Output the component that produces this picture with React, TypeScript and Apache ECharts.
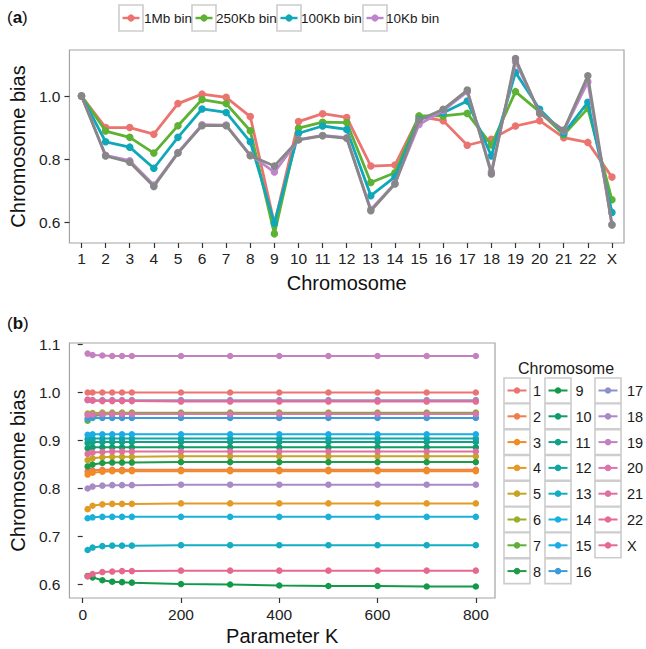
import React, { useEffect, useRef } from "react";
import * as echarts from "echarts";

const FONT = "'Liberation Sans', Arial, Helvetica, sans-serif";

// ---------- Panel (a) data ----------
const chromosomes = ["1","2","3","4","5","6","7","8","9","10","11","12","13","14","15","16","17","18","19","20","21","22","X"];
const bin1Mb = [1.0, 0.900, 0.900, 0.879, 0.976, 1.006, 0.996, 0.935, 0.595, 0.919, 0.944, 0.932, 0.778, 0.781, 0.935, 0.922, 0.844, 0.863, 0.905, 0.922, 0.868, 0.853, 0.743];
const bin250Kb = [1.0, 0.889, 0.869, 0.819, 0.906, 0.989, 0.976, 0.890, 0.563, 0.898, 0.917, 0.916, 0.726, 0.757, 0.937, 0.937, 0.945, 0.845, 1.014, 0.950, 0.877, 0.961, 0.671];
const bin100Kb = [1.0, 0.855, 0.838, 0.771, 0.869, 0.959, 0.948, 0.855, 0.597, 0.882, 0.905, 0.894, 0.684, 0.744, 0.926, 0.947, 0.984, 0.810, 1.075, 0.958, 0.882, 0.980, 0.631];
const bin10Kb = [1.0, 0.812, 0.795, 0.718, 0.821, 0.909, 0.908, 0.813, 0.759, 0.862, 0.875, 0.868, 0.640, 0.723, 0.910, 0.954, 1.014, 0.760, 1.109, 0.947, 0.890, 1.045, 0.593];
const overlayGrey = [1.0, 0.810, 0.790, 0.713, 0.819, 0.906, 0.906, 0.811, 0.778, 0.861, 0.874, 0.866, 0.636, 0.721, 0.924, 0.958, 1.019, 0.753, 1.119, 0.945, 0.892, 1.064, 0.591];
const binNames = ["1Mb bin", "250Kb bin", "100Kb bin", "10Kb bin"];
const binColors = ["#EC7470", "#5DB133", "#10A8B8", "#BE85CB"];
const greyColor = "#878787";
const yTicksA = [0.6, 0.8, 1.0];

// ---------- Panel (b) data ----------
const paramK = [10, 20, 40, 60, 80, 100, 200, 300, 400, 500, 600, 700, 800];
const c1 = [1.000, 1.000, 1.000, 1.000, 1.000, 1.000, 1.000, 1.000, 1.000, 1.000, 1.000, 1.000, 1.000];
const c2 = [0.836, 0.838, 0.839, 0.839, 0.839, 0.839, 0.839, 0.839, 0.839, 0.839, 0.839, 0.839, 0.839];
const c3 = [0.829, 0.833, 0.835, 0.836, 0.836, 0.836, 0.836, 0.836, 0.836, 0.836, 0.836, 0.836, 0.836];
const c4 = [0.757, 0.764, 0.767, 0.768, 0.768, 0.768, 0.769, 0.769, 0.769, 0.769, 0.769, 0.769, 0.769];
const c5 = [0.859, 0.863, 0.865, 0.866, 0.866, 0.866, 0.867, 0.867, 0.867, 0.867, 0.867, 0.867, 0.867];
const c6 = [0.956, 0.957, 0.958, 0.958, 0.958, 0.958, 0.958, 0.958, 0.958, 0.958, 0.958, 0.958, 0.958];
const c7 = [0.941, 0.950, 0.954, 0.955, 0.955, 0.956, 0.956, 0.956, 0.956, 0.956, 0.956, 0.956, 0.956];
const c8 = [0.846, 0.850, 0.853, 0.854, 0.854, 0.854, 0.855, 0.855, 0.855, 0.855, 0.855, 0.855, 0.855];
const c9 = [0.618, 0.615, 0.609, 0.606, 0.605, 0.604, 0.601, 0.600, 0.598, 0.597, 0.597, 0.596, 0.596];
const c10 = [0.884, 0.886, 0.886, 0.886, 0.886, 0.886, 0.886, 0.886, 0.886, 0.886, 0.886, 0.886, 0.886];
const c11 = [0.895, 0.897, 0.897, 0.897, 0.897, 0.897, 0.897, 0.897, 0.897, 0.897, 0.897, 0.897, 0.897];
const c12 = [0.903, 0.904, 0.904, 0.904, 0.904, 0.904, 0.904, 0.904, 0.904, 0.904, 0.904, 0.904, 0.904];
const c13 = [0.672, 0.677, 0.680, 0.681, 0.681, 0.681, 0.682, 0.682, 0.682, 0.682, 0.682, 0.682, 0.682];
const c14 = [0.738, 0.740, 0.741, 0.741, 0.741, 0.741, 0.741, 0.741, 0.741, 0.741, 0.741, 0.741, 0.741];
const c15 = [0.912, 0.913, 0.913, 0.913, 0.913, 0.913, 0.913, 0.913, 0.913, 0.913, 0.913, 0.913, 0.913];
const c16 = [0.946, 0.947, 0.947, 0.947, 0.947, 0.947, 0.947, 0.947, 0.947, 0.947, 0.947, 0.947, 0.947];
const c17 = [0.984, 0.984, 0.984, 0.984, 0.984, 0.984, 0.984, 0.984, 0.984, 0.984, 0.984, 0.984, 0.984];
const c18 = [0.800, 0.804, 0.806, 0.807, 0.807, 0.807, 0.808, 0.808, 0.808, 0.808, 0.808, 0.808, 0.808];
const c19 = [1.081, 1.078, 1.077, 1.076, 1.076, 1.076, 1.076, 1.076, 1.076, 1.076, 1.076, 1.076, 1.076];
const c20 = [0.953, 0.954, 0.955, 0.955, 0.955, 0.955, 0.955, 0.955, 0.955, 0.955, 0.955, 0.955, 0.955];
const c21 = [0.872, 0.875, 0.876, 0.877, 0.877, 0.877, 0.877, 0.877, 0.877, 0.877, 0.877, 0.877, 0.877];
const c22 = [0.985, 0.983, 0.982, 0.982, 0.982, 0.982, 0.981, 0.981, 0.981, 0.981, 0.981, 0.981, 0.981];
const cX = [0.617, 0.622, 0.626, 0.627, 0.628, 0.628, 0.629, 0.629, 0.629, 0.629, 0.629, 0.629, 0.629];
const chromValues = [c1, c2, c3, c4, c5, c6, c7, c8, c9, c10, c11, c12, c13, c14, c15, c16, c17, c18, c19, c20, c21, c22, cX];
const chromColors = [
  "#EC7470", "#EF7E4C", "#F08B25", "#E39B26", "#C6A524", "#9CAD2C", "#5FAF3A", "#1E9A48",
  "#13994A", "#0F9D68", "#0FA189", "#12A6A2", "#15ADC2", "#1AB0DC", "#1BACE6", "#3D9BDB",
  "#8E92CA", "#A88AC6", "#C480BF", "#DB75AF", "#E16F9F", "#E56B96", "#E7688E",
];
const yTicksB = [0.6, 0.7, 0.8, 0.9, 1.0, 1.1];
const xTicksB = [0, 200, 400, 600, 800];

export default function App() {
  const ref = useRef<HTMLDivElement>(null);

  useEffect(() => {
    if (!ref.current) return;
    const chart = echarts.init(ref.current, undefined, { renderer: "svg" });

    const seriesA: any[] = binNames.map((n, i) => ({
      name: n,
      type: "line",
      xAxisIndex: 0,
      yAxisIndex: 0,
      data: [bin1Mb, bin250Kb, bin100Kb, bin10Kb][i],
      symbol: "circle",
      symbolSize: 7.5,
      lineStyle: { width: 2.8, color: binColors[i] },
      itemStyle: { color: binColors[i] },
      z: 2 + i,
    }));
    seriesA.push({
      name: "overlay",
      type: "line",
      xAxisIndex: 0,
      yAxisIndex: 0,
      data: overlayGrey,
      symbol: "circle",
      symbolSize: 7.5,
      lineStyle: { width: 2.8, color: greyColor },
      itemStyle: { color: greyColor },
      z: 7,
    });

    const seriesB = chromosomes.map((c, i) => ({
      name: "chr" + c,
      type: "line",
      xAxisIndex: 1,
      yAxisIndex: 1,
      data: paramK.map((k, j) => [k, chromValues[i][j]]),
      symbol: "circle",
      symbolSize: 6.5,
      lineStyle: { width: 2, color: chromColors[i] },
      itemStyle: { color: chromColors[i] },
    }));

    const graphics: any[] = [];
    const txt = (text: string, x: number, y: number, size: number, extra: any = {}) => ({
      type: "text",
      x,
      y,
      style: {
        text,
        fontSize: size,
        fontFamily: FONT,
        fill: "#1a1a1a",
        align: "left",
        verticalAlign: "middle",
        textAlign: "left",
        textVerticalAlign: "middle",
        ...extra,
      },
      z: 10,
    });
    const panelLabel = (letter: string, y: number) => ({
      type: "text",
      x: 7,
      y,
      style: {
        text: "{p|(}{b|" + letter + "}{p|)}",
        verticalAlign: "middle",
        textVerticalAlign: "middle",
        rich: {
          p: { fontSize: 17, fontFamily: FONT, fill: "#111", color: "#111" },
          b: { fontSize: 17, fontFamily: FONT, fontWeight: "bold", fill: "#111", color: "#111" },
        },
      },
    });
    graphics.push(panelLabel("a", 17.5));
    graphics.push(panelLabel("b", 323));

    const key = (bx: number, by: number, w: number, h: number, color: string, lw: number, r: number) => {
      const cy = by + h / 2;
      graphics.push({
        type: "rect",
        shape: { x: bx, y: by, width: w, height: h },
        style: { fill: "#fff", stroke: "#CDCDCD", lineWidth: 1.6 },
        z: 9,
      });
      graphics.push({
        type: "line",
        shape: { x1: bx + 3.5, y1: cy, x2: bx + w - 3.5, y2: cy },
        style: { stroke: color, lineWidth: lw },
        z: 10,
      });
      graphics.push({
        type: "circle",
        shape: { cx: bx + w / 2, cy, r },
        style: { fill: color },
        z: 11,
      });
    };

    // legend (a)
    const legAx = [119, 192, 277, 363];
    const legAtx = [144, 216, 301, 386];
    binNames.forEach((n, i) => {
      key(legAx[i], 5, 24, 26, binColors[i], 2.4, 3.6);
      graphics.push(txt(n, legAtx[i], 18.5, 13.5));
    });

    // legend (b)
    graphics.push(txt("Chromosome", 518, 368, 16));
    const colBoxX = [504, 545, 595];
    const colLabX = [533, 575.5, 627];
    chromosomes.forEach((c, i) => {
      const col = Math.floor(i / 8);
      const row = i % 8;
      const by = 378 + row * 25.8;
      key(colBoxX[col], by, 26, 25, chromColors[i], 2, 3.3);
      graphics.push(txt(c, colLabX[col], by + 13, 14.5));
    });

    const tickStyle = { color: "#333", width: 1.2 };
    const labelStyle = { fontFamily: FONT, color: "#222", fontSize: 15.5 };
    const nameStyle = { fontFamily: FONT, color: "#111", fontSize: 20 };

    chart.setOption({
      animation: false,
      backgroundColor: "#fff",
      grid: [
        { left: 60, top: 50, width: 564, height: 193, show: true, borderColor: "#A3A3A3", borderWidth: 1.2, backgroundColor: "transparent", containLabel: false },
        { left: 58, top: 343, width: 437, height: 255, show: true, borderColor: "#A3A3A3", borderWidth: 1.2, backgroundColor: "transparent", containLabel: false },
      ],
      xAxis: [
        {
          type: "category",
          gridIndex: 0,
          data: chromosomes,
          boundaryGap: true,
          axisLine: { show: false },
          axisTick: { show: true, alignWithLabel: true, length: 5, lineStyle: tickStyle },
          axisLabel: { ...labelStyle, margin: 7, interval: 0 },
          splitLine: { show: false },
          name: "Chromosome",
          nameLocation: "middle",
          nameGap: 30,
          nameTextStyle: nameStyle,
        },
        {
          type: "value",
          gridIndex: 1,
          min: -27,
          max: 839,
          axisLine: { show: false },
          axisTick: { show: true, length: 5, lineStyle: tickStyle, customValues: xTicksB },
          axisLabel: { ...labelStyle, margin: 8, customValues: xTicksB },
          splitLine: { show: false },
          name: "Parameter K",
          nameLocation: "middle",
          nameGap: 28,
          nameTextStyle: nameStyle,
        },
      ],
      yAxis: [
        {
          type: "value",
          gridIndex: 0,
          min: 0.534,
          max: 1.146,
          axisLine: { show: false },
          axisTick: { show: true, length: 5, lineStyle: tickStyle, customValues: yTicksA },
          axisLabel: { ...labelStyle, margin: 9, customValues: yTicksA, formatter: (v: number) => v.toFixed(1) },
          splitLine: { show: false },
          name: "Chromosome bias",
          nameLocation: "middle",
          nameGap: 35,
          nameRotate: 90,
          nameTextStyle: nameStyle,
        },
        {
          type: "value",
          gridIndex: 1,
          min: 0.572,
          max: 1.103,
          axisLine: { show: false },
          axisTick: { show: true, length: 5, lineStyle: tickStyle, customValues: yTicksB },
          axisLabel: { ...labelStyle, margin: 9, customValues: yTicksB, formatter: (v: number) => v.toFixed(1) },
          splitLine: { show: false },
          name: "Chromosome bias",
          nameLocation: "middle",
          nameGap: 36,
          nameRotate: 90,
          nameTextStyle: nameStyle,
        },
      ],
      series: [...seriesA, ...seriesB],
      graphic: graphics,
    });

    return () => chart.dispose();
  }, []);

  return (
    <div
      ref={ref}
      style={{ position: "absolute", left: 0, top: 0, width: 646, height: 649, background: "#fff" }}
    />
  );
}
